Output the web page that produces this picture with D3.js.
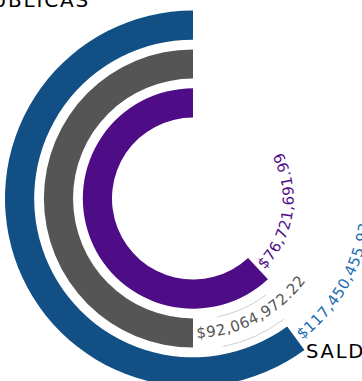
<!DOCTYPE html>
<html>
<head>
<meta charset="utf-8">
<script src="https://cdn.jsdelivr.net/npm/d3@7"></script>
<style>
  html, body { margin: 0; padding: 0; background: #fff; overflow: hidden; }
  svg { display: block; font-family: "DejaVu Sans", sans-serif; }
</style>
</head>
<body>
<svg id="chart" width="362" height="381"></svg>
<script>
// ---- data ----
const categorias = ["Saldo", "Ejercido", "Pagado"];
const montos = [117450455.93, 92064972.22, 76721691.99];
const porcentajes = [60.1, 50.0, 61.9];
const etiquetas = ["$117,450,455.93", "$92,064,972.22", "$76,721,691.99"];
const colores = ["#114f84", "#555555", "#4f0c87"];
const coloresTexto = ["#1a6cb3", "#555555", "#4f0c87"];
const titulos = ["OBRAS PÚBLICAS", "SALDO"];

const svg = d3.select("#chart");
const cx = 193, cy = 198.5;
const g = svg.append("g").attr("transform", `translate(${cx},${cy})`);

const ang = d3.scaleLinear().domain([0, 100]).range([0, -2 * Math.PI]);
const rad = d3.scaleBand()
  .domain(categorias.slice().reverse())
  .range([81, 188])
  .paddingInner(0.25)
  .paddingOuter(0);

const data = categorias.map((c, i) => ({
  cat: c, monto: montos[i], pct: porcentajes[i], label: etiquetas[i],
  color: colores[i], tcolor: coloresTexto[i]
}));

const arc = d3.arc()
  .innerRadius(d => rad(d.cat))
  .outerRadius(d => rad(d.cat) + rad.bandwidth())
  .startAngle(0)
  .endAngle(d => ang(d.pct));

g.selectAll("path.bar").data(data).enter().append("path")
  .attr("class", "bar")
  .attr("d", arc)
  .attr("fill", d => d.color);

// faint guide arcs around the middle label
const mid = data[1];
const guide = d3.arc().startAngle(ang(mid.pct) - 0.2).endAngle(ang(mid.pct) - 0.65);
[rad(mid.cat) + 1, rad(mid.cat) + rad.bandwidth() + 2].forEach(r => {
  g.append("path")
    .attr("d", guide.innerRadius(r).outerRadius(r)())
    .attr("fill", "none")
    .attr("stroke", "#d4d4d4")
    .attr("stroke-width", 0.8);
});

// text paths continuing beyond each bar end
const pt = (r, a) => [r * Math.sin(a), -r * Math.cos(a)];
data.forEach((d, i) => {
  const r = rad(d.cat) + rad.bandwidth() / 2 + 5;
  const a0 = ang(d.pct);
  const a1 = a0 - 2.8;
  const p0 = pt(r, a0), p1 = pt(r, a1);
  g.append("path")
    .attr("id", "tp" + i)
    .attr("fill", "none")
    .attr("d", `M${p0[0]},${p0[1]} A${r},${r} 0 0 0 ${p1[0]},${p1[1]}`);
  g.append("text")
    .attr("font-size", 15)
    .attr("letter-spacing", 0.6)
    .attr("fill", d.tcolor)
    .append("textPath")
    .attr("href", "#tp" + i)
    .attr("startOffset", 4)
    .text(d.label);
});

svg.append("text")
  .attr("x", 90).attr("y", 7)
  .attr("text-anchor", "end")
  .attr("font-size", 20)
  .attr("letter-spacing", 1.8)
  .attr("fill", "#000")
  .text(titulos[0]);

svg.append("text")
  .attr("x", 306).attr("y", 358)
  .attr("font-size", 19.5)
  .attr("letter-spacing", 1.8)
  .attr("fill", "#000")
  .text(titulos[1]);
</script>
</body>
</html>
